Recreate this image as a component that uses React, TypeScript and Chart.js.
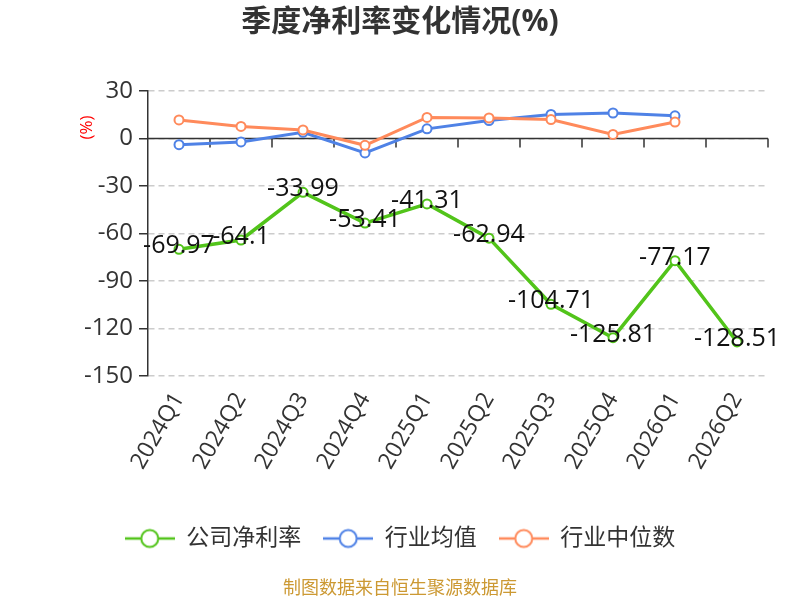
import React, { useEffect, useRef } from "react";
import { Chart, registerables } from "chart.js";

Chart.register(...registerables);

const categories = ["2024Q1", "2024Q2", "2024Q3", "2024Q4", "2025Q1", "2025Q2", "2025Q3", "2025Q4", "2026Q1", "2026Q2"];
const companyNetMargin = [-69.97, -64.1, -33.99, -53.41, -41.31, -62.94, -104.71, -125.81, -77.17, -128.51];
const industryAverage = [-3.9, -2.2, 3.9, -9.1, 6.1, 11.3, 15.2, 16.1, 14.3, null];
const industryMedian = [11.7, 7.6, 5.4, -4.3, 13.3, 13.0, 12.0, 2.6, 10.4, null];
const seriesNames = ["公司净利率", "行业均值", "行业中位数"];
const seriesColors = ["#52c41a", "#4f82e6", "#ff8a5b"];
const yMin = -150;
const yMax = 30;
const yStep = 30;
const titleText = "季度净利率变化情况(%)";
const yUnitText = "(%)";
const sourceText = "制图数据来自恒生聚源数据库";

const FONT = "'Open Sans', 'Noto Sans CJK SC', sans-serif";

function legendIcon(color: string): HTMLCanvasElement {
  const c = document.createElement("canvas");
  c.width = 50;
  c.height = 22;
  const ctx = c.getContext("2d")!;
  ctx.strokeStyle = color;
  ctx.lineWidth = 2.5;
  ctx.beginPath();
  ctx.moveTo(0, 11);
  ctx.lineTo(50, 11);
  ctx.stroke();
  ctx.beginPath();
  ctx.arc(25, 11, 8.5, 0, Math.PI * 2);
  ctx.fillStyle = "#fff";
  ctx.fill();
  ctx.lineWidth = 2;
  ctx.stroke();
  return c;
}

const extrasPlugin = {
  id: "extras",
  beforeDatasetsDraw(chart: any) {
    const { ctx, chartArea, scales } = chart;
    const y0 = scales.y.getPixelForValue(0);
    const n = categories.length;
    ctx.save();
    ctx.strokeStyle = "#333";
    ctx.lineWidth = 1.5;
    ctx.beginPath();
    ctx.moveTo(chartArea.left, y0);
    ctx.lineTo(chartArea.right, y0);
    for (let i = 1; i <= n; i++) {
      const x = chartArea.left + (i * (chartArea.right - chartArea.left)) / n;
      ctx.moveTo(x, y0);
      ctx.lineTo(x, y0 + 9);
    }
    ctx.stroke();
    ctx.restore();
  },
  afterDatasetsDraw(chart: any) {
    const { ctx, chartArea, scales } = chart;
    const meta = chart.getDatasetMeta(0);
    ctx.save();
    ctx.font = `25px ${FONT}`;
    ctx.fillStyle = "#111";
    ctx.textAlign = "center";
    ctx.textBaseline = "middle";
    meta.data.forEach((pt: any, i: number) => {
      ctx.fillText(String(companyNetMargin[i]), pt.x, pt.y - 3);
    });
    ctx.translate(chartArea.left - 61, scales.y.getPixelForValue(7));
    ctx.rotate(-Math.PI / 2);
    ctx.font = `17px ${FONT}`;
    ctx.fillStyle = "#ff0000";
    ctx.fillText(yUnitText, 0, 0);
    ctx.restore();
    ctx.save();
    ctx.font = `18px ${FONT}`;
    ctx.fillStyle = "#cc9933";
    ctx.textAlign = "center";
    ctx.textBaseline = "middle";
    ctx.fillText(sourceText, chart.width / 2, 589);
    ctx.restore();
  },
};

export default function App() {
  const ref = useRef<HTMLCanvasElement>(null);
  useEffect(() => {
    const data = [companyNetMargin, industryAverage, industryMedian];
    const icons = seriesColors.map((c) => legendIcon(c));
    const chart = new Chart(ref.current!, {
      type: "line",
      data: {
        labels: categories,
        datasets: data.map((d, i) => ({
          label: seriesNames[i],
          data: d,
          borderColor: seriesColors[i],
          backgroundColor: "#fff",
          borderWidth: i === 0 ? 3.5 : 3,
          pointRadius: 4.5,
          pointBorderWidth: 2,
          pointBackgroundColor: "#fff",
          pointBorderColor: seriesColors[i],
          pointStyle: "circle",
          tension: 0,
          order: 3 - i,
        })),
      },
      options: {
        responsive: false,
        animation: false,
        layout: { padding: { top: 0, right: 32, bottom: 40, left: 32 } },
        plugins: {
          title: {
            display: true,
            text: titleText,
            color: "#333",
            font: { size: 30, weight: "bold", family: FONT },
            padding: { top: 4, bottom: 51 },
          },
          legend: {
            position: "bottom",
            labels: {
              usePointStyle: true,
              pointStyleWidth: 50,
              boxHeight: 22,
              padding: 22,
              color: "#333",
              font: { size: 23, family: FONT },
              generateLabels: (chart: any) =>
                chart.data.datasets.map((ds: any, i: number) => ({
                  text: ds.label,
                  fillStyle: "#fff",
                  strokeStyle: seriesColors[i],
                  fontColor: "#333",
                  lineWidth: 2,
                  pointStyle: icons[i],
                  hidden: false,
                  datasetIndex: i,
                })),
            },
          },
          tooltip: { enabled: false },
        },
        scales: {
          x: {
            offset: true,
            grid: { display: false, offset: true },
            border: { display: false },
            ticks: {
              color: "#333",
              font: { size: 23, family: FONT },
              minRotation: 60,
              maxRotation: 60,
              padding: 4,
            },
            afterFit: (s: any) => {
              s.height = 129;
            },
          },
          y: {
            min: yMin,
            max: yMax,
            ticks: {
              stepSize: yStep,
              color: "#333",
              font: { size: 24, family: FONT },
              padding: 6,
            },
            grid: {
              color: "#cccccc",
              tickBorderDash: [],
              tickColor: "#333",
              tickLength: 9,
              tickWidth: 1.5,
              lineWidth: 1.5,
            },
            border: { display: true, color: "#333", width: 1.5, dash: [6, 4] },
            afterFit: (s: any) => {
              s.width = 116;
            },
          },
        },
      },
      plugins: [extrasPlugin],
    });
    return () => chart.destroy();
  }, []);
  return (
    <div style={{ position: "fixed", left: 0, top: 0, width: 800, height: 600, background: "#fff" }}>
      <canvas ref={ref} width={800} height={600} style={{ display: "block" }} />
    </div>
  );
}
